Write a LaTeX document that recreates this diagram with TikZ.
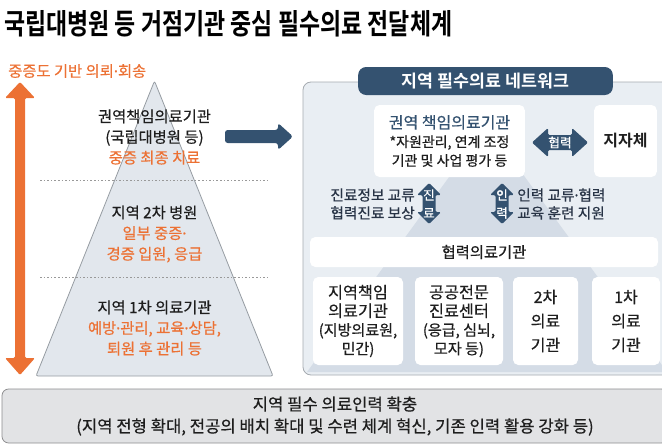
\documentclass[tikz,border=0pt]{standalone}
\usepackage{fontspec}
\setmainfont{Noto Sans CJK KR}
\newfontfamily\medfont{Noto Sans CJK KR}[FakeBold=0.5]
\newfontfamily\boldfont{Noto Sans CJK KR Bold}
\newfontfamily\dotfont{Noto Sans}[FakeBold=0.5]
\definecolor{orangeline}{RGB}{236,113,52}
\definecolor{navy}{RGB}{52,82,112}
\definecolor{navytext}{RGB}{40,52,70}
\definecolor{textdark}{RGB}{30,30,30}
\definecolor{pyrfill}{RGB}{226,231,237}
\definecolor{pyrdraw}{RGB}{150,156,162}
\definecolor{panelfill}{RGB}{233,238,243}
\definecolor{paneldraw}{RGB}{165,170,176}
\definecolor{faintfill}{RGB}{212,220,230}
\definecolor{bottomfill}{RGB}{226,227,229}
\definecolor{bottomdraw}{RGB}{140,140,142}
\newcommand\subline[1]{{\fontsize{11.3}{14}\selectfont #1}}
\newcommand\mdot{{\dotfont ·}}
\usepackage{tikz}

\begin{document}
\begin{tikzpicture}[x=0.75pt, y=-0.75pt,
    every node/.style={inner sep=0pt, text=textdark, font=\medfont\fontsize{11}{15}\selectfont},
    tier/.style={align=center, font=\medfont\fontsize{11.5}{15.5}\selectfont},
    card/.style={fill=white, rounded corners=4pt, align=center},
    sidenote/.style={font=\medfont\fontsize{11}{13.5}\selectfont, text=navytext},
    arrowtext/.style={text=white, font=\medfont\fontsize{9.5}{10}\selectfont},
    dotline/.style={draw=gray!80, line width=0.6pt, dash pattern=on 1.2pt off 1.5pt}
]
\useasboundingbox (0,0) rectangle (662,446);

\node[anchor=west, text=black, font=\boldfont\fontsize{21.5}{24}\selectfont] (title) at (4,24) {\scalebox{0.8}[1]{국립대병원 등 거점기관 중심 필수의료 전달체계}};

% pyramid side
\node[anchor=west, text=orangeline, font=\medfont\fontsize{11.5}{13}\selectfont] (axis) at (8,71) {중증도 기반 의뢰\mdot 회송};
\fill[orangeline, rounded corners=1pt] (15,98) -- (5,98) -- (20,82) -- (35,98) -- (25,98) -- (25,358) -- (35,358) -- (20,375) -- (5,358) -- (15,358) -- cycle;
\filldraw[fill=pyrfill, draw=pyrdraw, line width=0.6pt, rounded corners=1.5pt] (154.5,81) -- (273,376) -- (36,376) -- cycle;
\draw[dotline] (40,180) -- (270,180);
\draw[dotline] (40,277) -- (270,277);

\node[tier] (tierone) at (154.5,137) {권역책임의료기관\\(국립대병원 등)\\\textcolor{orangeline}{중증 최종 치료}};
\node[tier] (tiertwo) at (154.5,234) {지역 2차 병원\\\textcolor{orangeline}{일부 중증\mdot}\\\textcolor{orangeline}{경증 입원, 응급}};
\node[tier] (tierthree) at (154.5,328) {지역 1차 의료기관\\\textcolor{orangeline}{예방\mdot 관리, 교육\mdot 상담,}\\\textcolor{orangeline}{퇴원 후 관리 등}};

\fill[navy, rounded corners=2pt] (225,130) -- (278,130) -- (278,123) -- (293,136.5) -- (278,150) -- (278,143) -- (225,143) -- cycle;

% network panel
\filldraw[fill=panelfill, draw=paneldraw, line width=0.6pt, rounded corners=6pt] (303,82) rectangle (670,375);
\fill[faintfill] (487,125) -- (667,372) -- (307,372) -- cycle;
\node[fill=navy, rounded corners=6pt, minimum width=191pt, minimum height=21pt, text=white, font=\boldfont\fontsize{13}{15}\selectfont] (network) at (485.5,81) {지역 필수의료 네트워크};

\node[card, minimum width=113pt, minimum height=54pt, font=\medfont\fontsize{10.5}{14}\selectfont] (hub) at (449.5,141) {\textcolor{navy}{\fontsize{12}{14}\selectfont 권역 책임의료기관}\\*자원관리, 연계 조정\\기관 및 사업 평가 등};
\node[card, minimum width=47pt, minimum height=54pt, font=\boldfont\fontsize{12}{14}\selectfont] (local) at (625.5,141) {지자체};

\fill[navy, rounded corners=1pt] (532,142.5) -- (548,128) -- (548,135) -- (572,135) -- (572,128) -- (588,142.5) -- (572,157) -- (572,150) -- (548,150) -- (548,157) -- cycle;
\node[arrowtext] (coop) at (560,142.5) {협력};

\foreach \x in {429,502}
  \fill[navy, rounded corners=1pt] (\x,183) -- (\x+12,195) -- (\x+6.5,195) -- (\x+6.5,212) -- (\x+12,212) -- (\x,224) -- (\x-12,212) -- (\x-6.5,212) -- (\x-6.5,195) -- (\x-12,195) -- cycle;
\node[arrowtext] (careone) at (429,195) {진};
\node[arrowtext] (caretwo) at (429,213) {료};
\node[arrowtext] (staffone) at (502,195) {인};
\node[arrowtext] (stafftwo) at (502,213) {력};

\node[sidenote, anchor=east, align=right] (carenote) at (415,204) {진료정보 교류\\협력진료 보상};
\node[sidenote, anchor=west, align=left] (staffnote) at (517,204) {인력 교류\mdot 협력\\교육 훈련 지원};

\node[card, minimum width=261pt, minimum height=22.5pt, font=\medfont\fontsize{11.5}{13}\selectfont] (partner) at (484,252) {협력의료기관};

\node[card, minimum width=67.5pt, minimum height=66pt, font=\medfont\fontsize{12.2}{14}\selectfont] (regional) at (358,321) {지역책임\\의료기관\\\subline{(지방의료원,}\\\subline{민간)}};
\node[card, minimum width=66pt, minimum height=66pt, font=\medfont\fontsize{12.2}{14}\selectfont] (public) at (459,321) {공공전문\\진료센터\\\subline{(응급, 심뇌,}\\\subline{모자 등)}};
\node[card, minimum width=48.75pt, minimum height=66pt, font=\medfont\fontsize{12}{18}\selectfont] (second) at (545.5,321) {2차\\의료\\기관};
\node[card, minimum width=51pt, minimum height=66pt, font=\medfont\fontsize{12}{18}\selectfont] (first) at (626,321) {1차\\의료\\기관};

% workforce
\node[fill=bottomfill, draw=bottomdraw, line width=0.6pt, rounded corners=5pt, minimum width=499.5pt, minimum height=40.5pt, align=center, font=\medfont\fontsize{12.5}{16.5}\selectfont] (workforce) at (335,416) {지역 필수 의료인력 확충\\(지역 전형 확대, 전공의 배치 확대 및 수련 체계 혁신, 기존 인력 활용 강화 등)};
\end{tikzpicture}
\end{document}
